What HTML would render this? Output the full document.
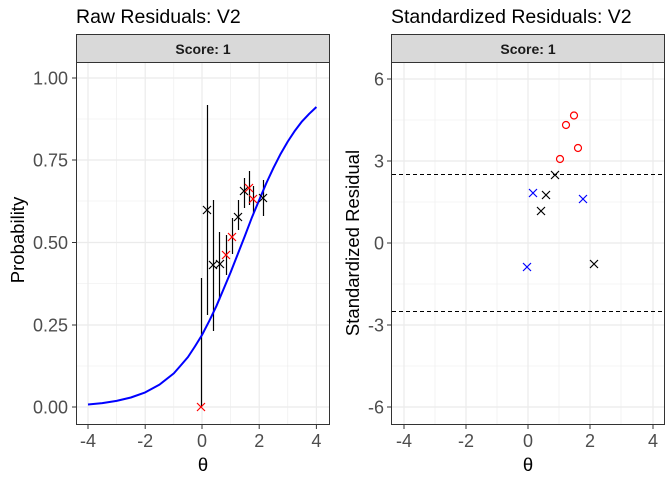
<!DOCTYPE html>
<html><head><meta charset="utf-8"><style>body{margin:0;background:#fff}svg{display:block}</style></head><body>
<svg width="672" height="480" xmlns="http://www.w3.org/2000/svg" font-family="Liberation Sans, sans-serif">
<rect width="672" height="480" fill="#fff"/>
<!-- LEFT PANEL -->
<text x="76" y="23" font-size="19.5" fill="#000">Raw Residuals: V2</text>
<rect x="76.5" y="34.5" width="253" height="28" fill="#d9d9d9" stroke="#333"/>
<text x="203" y="54" font-size="14" font-weight="bold" text-anchor="middle" fill="#1a1a1a">Score: 1</text>
<g stroke="#ebebeb" stroke-width="0.6">
<line x1="116.6" y1="63" x2="116.6" y2="424"/><line x1="173.8" y1="63" x2="173.8" y2="424"/><line x1="230.6" y1="63" x2="230.6" y2="424"/><line x1="287.8" y1="63" x2="287.8" y2="424"/>
<line x1="77" y1="119" x2="329" y2="119"/><line x1="77" y1="201" x2="329" y2="201"/><line x1="77" y1="283.5" x2="329" y2="283.5"/><line x1="77" y1="366" x2="329" y2="366"/>
</g>
<g stroke="#ebebeb" stroke-width="1.2">
<line x1="88" y1="63" x2="88" y2="424"/><line x1="145.2" y1="63" x2="145.2" y2="424"/><line x1="202" y1="63" x2="202" y2="424"/><line x1="259.2" y1="63" x2="259.2" y2="424"/><line x1="316.4" y1="63" x2="316.4" y2="424"/>
<line x1="77" y1="78" x2="329" y2="78"/><line x1="77" y1="160" x2="329" y2="160"/><line x1="77" y1="242.5" x2="329" y2="242.5"/><line x1="77" y1="325" x2="329" y2="325"/><line x1="77" y1="407" x2="329" y2="407"/>
</g>
<g stroke="#000" stroke-width="1.2">
<line x1="201.5" y1="278" x2="201.5" y2="407"/><line x1="207.5" y1="105" x2="207.5" y2="315"/><line x1="213.5" y1="200" x2="213.5" y2="331"/><line x1="219.5" y1="232" x2="219.5" y2="300"/><line x1="226.5" y1="235" x2="226.5" y2="275"/><line x1="232.5" y1="218" x2="232.5" y2="254"/><line x1="238.5" y1="200" x2="238.5" y2="230"/><line x1="244.5" y1="178" x2="244.5" y2="208"/><line x1="249.5" y1="171" x2="249.5" y2="205"/><line x1="253.5" y1="186" x2="253.5" y2="214"/><line x1="263.5" y1="180" x2="263.5" y2="216"/>
</g>
<path d="M88,404.5 L102.3,403.1 L116.6,400.9 L130.9,397.5 L145.2,392.4 L159.5,384.6 L173.8,373.4 L180.7,365.5 L188,357 L194.9,346.5 L202,335 L209.2,321.1 L216.3,306.3 L223.4,289.5 L230.6,272.4 L237.8,254 L244.9,235.9 L252,217.2 L259.2,200 L266.4,183 L273.5,167.8 L280.7,153.7 L287.8,141.5 L295,130.6 L302,121.4 L309.2,113.8 L316.4,107" fill="none" stroke="#0000ff" stroke-width="2" stroke-linejoin="round"/>
<g stroke-width="1.2" fill="none">
<path d="M197,403l8,8M205,403l-8,8" stroke="#f00"/>
<path d="M203,206l8,8M211,206l-8,8" stroke="#000"/>
<path d="M209,261l8,8M217,261l-8,8" stroke="#000"/>
<path d="M216,260l8,8M224,260l-8,8" stroke="#000"/>
<path d="M222,251l8,8M230,251l-8,8" stroke="#f00"/>
<path d="M228,233l8,8M236,233l-8,8" stroke="#f00"/>
<path d="M234,213l8,8M242,213l-8,8" stroke="#000"/>
<path d="M240,187l8,8M248,187l-8,8" stroke="#000"/>
<path d="M245,184l8,8M253,184l-8,8" stroke="#f00"/>
<path d="M249,195l8,8M257,195l-8,8" stroke="#f00"/>
<path d="M259,194l8,8M267,194l-8,8" stroke="#000"/>
</g>
<rect x="76.5" y="62.5" width="253" height="362" fill="none" stroke="#333"/>
<g stroke="#333"><line x1="72" y1="78" x2="76" y2="78"/><line x1="72" y1="160" x2="76" y2="160"/><line x1="72" y1="242.5" x2="76" y2="242.5"/><line x1="72" y1="325" x2="76" y2="325"/><line x1="72" y1="407" x2="76" y2="407"/>
<line x1="88" y1="425" x2="88" y2="429"/><line x1="145.2" y1="425" x2="145.2" y2="429"/><line x1="202" y1="425" x2="202" y2="429"/><line x1="259.2" y1="425" x2="259.2" y2="429"/><line x1="316.4" y1="425" x2="316.4" y2="429"/></g>
<g font-size="18" fill="#4d4d4d" text-anchor="end"><text x="68" y="84.5">1.00</text><text x="68" y="166.5">0.75</text><text x="68" y="249">0.50</text><text x="68" y="331.5">0.25</text><text x="68" y="413.5">0.00</text></g>
<g font-size="18" fill="#4d4d4d" text-anchor="middle"><text x="88" y="447">-4</text><text x="145.2" y="447">-2</text><text x="202" y="447">0</text><text x="259.2" y="447">2</text><text x="316.4" y="447">4</text></g>
<text x="203" y="471" font-size="18.5" text-anchor="middle">θ</text>
<text transform="translate(24,240) rotate(-90)" font-size="18.5" text-anchor="middle">Probability</text>

<!-- RIGHT PANEL -->
<text x="391" y="23" font-size="19.5" fill="#000">Standardized Residuals: V2</text>
<rect x="391.5" y="34.5" width="273" height="28" fill="#d9d9d9" stroke="#333"/>
<text x="528" y="54" font-size="14" font-weight="bold" text-anchor="middle" fill="#1a1a1a">Score: 1</text>
<g stroke="#ebebeb" stroke-width="0.6">
<line x1="435" y1="63" x2="435" y2="424"/><line x1="497" y1="63" x2="497" y2="424"/><line x1="559" y1="63" x2="559" y2="424"/><line x1="621" y1="63" x2="621" y2="424"/>
<line x1="392" y1="120" x2="664" y2="120"/><line x1="392" y1="202" x2="664" y2="202"/><line x1="392" y1="284" x2="664" y2="284"/><line x1="392" y1="366" x2="664" y2="366"/>
</g>
<g stroke="#ebebeb" stroke-width="1.2">
<line x1="404" y1="63" x2="404" y2="424"/><line x1="466" y1="63" x2="466" y2="424"/><line x1="528" y1="63" x2="528" y2="424"/><line x1="590" y1="63" x2="590" y2="424"/><line x1="653" y1="63" x2="653" y2="424"/>
<line x1="392" y1="79" x2="664" y2="79"/><line x1="392" y1="161" x2="664" y2="161"/><line x1="392" y1="243" x2="664" y2="243"/><line x1="392" y1="325" x2="664" y2="325"/><line x1="392" y1="407" x2="664" y2="407"/>
</g>
<g stroke="#000" stroke-dasharray="4,3"><line x1="392" y1="174.5" x2="664" y2="174.5"/><line x1="392" y1="311.5" x2="664" y2="311.5"/></g>
<g fill="none" stroke="#f00" stroke-width="1.2"><circle cx="560" cy="159" r="3.5"/><circle cx="566" cy="125" r="3.5"/><circle cx="574" cy="115.5" r="3.5"/><circle cx="578" cy="148" r="3.5"/></g>
<g stroke-width="1.2" fill="none">
<path d="M523,263l8,8M531,263l-8,8" stroke="#00f"/>
<path d="M529,189l8,8M537,189l-8,8" stroke="#00f"/>
<path d="M537,207l8,8M545,207l-8,8" stroke="#000"/>
<path d="M542,191l8,8M550,191l-8,8" stroke="#000"/>
<path d="M551,171l8,8M559,171l-8,8" stroke="#000"/>
<path d="M579,195l8,8M587,195l-8,8" stroke="#00f"/>
<path d="M590,260l8,8M598,260l-8,8" stroke="#000"/>
</g>
<rect x="391.5" y="62.5" width="273" height="362" fill="none" stroke="#333"/>
<g stroke="#333"><line x1="387" y1="79" x2="391" y2="79"/><line x1="387" y1="161" x2="391" y2="161"/><line x1="387" y1="243" x2="391" y2="243"/><line x1="387" y1="325" x2="391" y2="325"/><line x1="387" y1="407" x2="391" y2="407"/>
<line x1="404" y1="425" x2="404" y2="429"/><line x1="466" y1="425" x2="466" y2="429"/><line x1="528" y1="425" x2="528" y2="429"/><line x1="590" y1="425" x2="590" y2="429"/><line x1="653" y1="425" x2="653" y2="429"/></g>
<g font-size="18" fill="#4d4d4d" text-anchor="end"><text x="384" y="85.5">6</text><text x="384" y="167.5">3</text><text x="384" y="249.5">0</text><text x="384" y="331.5">-3</text><text x="384" y="413.5">-6</text></g>
<g font-size="18" fill="#4d4d4d" text-anchor="middle"><text x="404" y="447">-4</text><text x="466" y="447">-2</text><text x="528" y="447">0</text><text x="590" y="447">2</text><text x="653" y="447">4</text></g>
<text x="528" y="471" font-size="18.5" text-anchor="middle">θ</text>
<text transform="translate(359,243) rotate(-90)" font-size="18.5" text-anchor="middle">Standardized Residual</text>
</svg>
</body></html>
